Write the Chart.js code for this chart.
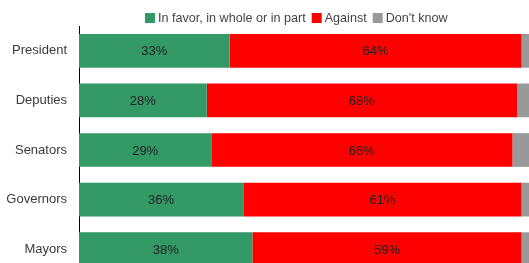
<!DOCTYPE html>
<html>
<head>
<meta charset="utf-8">
<script src="https://cdn.jsdelivr.net/npm/chart.js@4"></script>
<style>
html,body{margin:0;padding:0;overflow:hidden;background:#fff;}
canvas{position:absolute;left:0;top:0;}
</style>
</head>
<body>
<canvas id="opinionChart" width="592" height="274"></canvas>
<script>
var categories = ["President", "Deputies", "Senators", "Governors", "Mayors"];
var seriesNames = ["In favor, in whole or in part", "Against", "Don't know"];
var inFavor = [33, 28, 29, 36, 38];
var against = [64, 68, 66, 61, 59];
var dontKnow = [3, 4, 5, 3, 3];
var barColors = ["#339966", "#ff0000", "#999999"];
var fontFam = "'Liberation Sans', Arial, sans-serif";

// writes the % value in the middle of the green and red pieces
var valueLabels = {
    id: "valueLabels",
    afterDatasetsDraw: function(chart) {
        var ctx = chart.ctx;
        ctx.save();
        ctx.font = "13px " + fontFam;
        ctx.fillStyle = "#222";
        ctx.textAlign = "center";
        ctx.textBaseline = "middle";
        [0, 1].forEach(function(d) {
            var meta = chart.getDatasetMeta(d);
            meta.data.forEach(function(bar, i) {
                var v = chart.data.datasets[d].data[i];
                var cx = (bar.x + bar.base) / 2;
                ctx.fillText(v + "%", cx, bar.y + 1);
            });
        });
        ctx.restore();
    }
};

// small legend on top, drawn by hand so it sits tight above the bars
var topLegend = {
    id: "topLegend",
    afterDraw: function(chart) {
        var ctx = chart.ctx;
        var sets = chart.data.datasets;
        ctx.save();
        ctx.font = "12.6px " + fontFam;
        ctx.textBaseline = "middle";
        var total = 0;
        sets.forEach(function(ds, i) {
            total += 10 + 3 + ctx.measureText(ds.label).width;
            if (i < sets.length - 1) total += 6;
        });
        var x = Math.round(chart.width / 2 - total / 2);
        var y = 18;
        sets.forEach(function(ds) {
            ctx.fillStyle = ds.backgroundColor;
            ctx.fillRect(x, y - 5, 10, 10);
            x += 13;
            ctx.fillStyle = "#444";
            ctx.fillText(ds.label, x, y + 1);
            x += ctx.measureText(ds.label).width + 6;
        });
        ctx.restore();
    }
};

new Chart("opinionChart", {
    type: "bar",
    data: {
        labels: categories,
        datasets: [
            {label: seriesNames[0], data: inFavor, backgroundColor: barColors[0]},
            {label: seriesNames[1], data: against, backgroundColor: barColors[1]},
            {label: seriesNames[2], data: dontKnow, backgroundColor: barColors[2]}
        ]
    },
    options: {
        indexAxis: "y",
        responsive: false,
        animation: false,
        layout: {padding: {left: 0, right: 2, top: 26, bottom: 0}},
        datasets: {bar: {barPercentage: 0.68, categoryPercentage: 1}},
        plugins: {
            legend: {display: false},
            tooltip: {enabled: false}
        },
        scales: {
            x: {
                stacked: true,
                display: false,
                min: 0,
                max: 112
            },
            y: {
                stacked: true,
                grid: {display: false, drawTicks: false},
                border: {display: true, color: "#000", width: 1},
                ticks: {
                    padding: 12,
                    color: "#3a3a3a",
                    font: {family: fontFam, size: 13}
                },
                afterFit: function(scale) {
                    scale.width = 79;
                    scale.paddingTop = 0;
                    scale.paddingBottom = 0;
                }
            }
        }
    },
    plugins: [valueLabels, topLegend]
});
</script>
</body>
</html>
